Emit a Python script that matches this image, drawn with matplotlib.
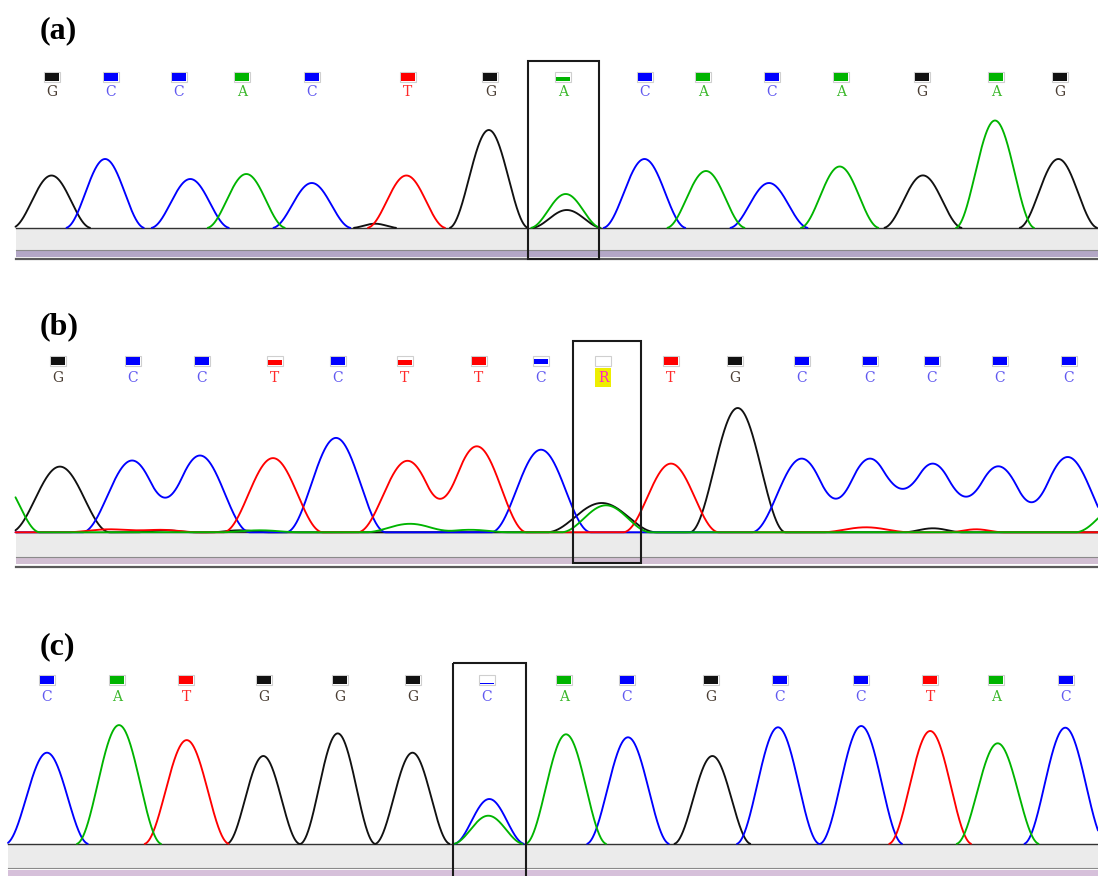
import numpy as np
import matplotlib
matplotlib.use("Agg")
import matplotlib.pyplot as plt
from matplotlib.patches import Rectangle

# ---------------- data ----------------
# Panel (a)
calls_a = list("GCCACTGACACAGAG")
call_x_a = [51.6, 110.8, 178.9, 242, 312, 407.6, 490.4, 563, 645, 703, 772, 841, 922, 996, 1060]
call_q_a = [1, 1, 1, 1, 1, 1, 1, 0.4, 1, 1, 1, 1, 1, 1, 1]
peak_base_a = ["G", "C", "C", "A", "C", "G", "T", "G", "A", "G", "C", "A", "C", "A", "G", "A", "G"]
peak_x_a = [51.5, 105.1, 190.3, 246.3, 311.8, 375, 406.4, 488.8, 565.7, 566.8, 644.5, 706, 769, 839.7, 922.9, 995, 1058.4]
peak_h_a = [52.5, 69, 49, 54, 45, 4.3, 52.5, 98, 34, 18, 69, 57, 45, 61.5, 52.6, 107.5, 69]
peak_w_a = [40, 40, 40, 40, 40, 24, 40, 40, 36, 36, 42, 40, 40, 40, 40, 40, 40]

# Panel (b)
calls_b = list("GCCTCTTCRTGCCCCC")
call_x_b = [58, 133, 202, 275, 338, 405, 479, 541, 603, 671, 735, 802, 870, 932, 1000, 1069]
call_q_b = [1, 1, 1, 0.6, 1, 0.6, 1, 0.65, 0, 1, 1, 1, 1, 1, 1, 1]
peak_base_b = ["A", "G", "C", "C", "T", "C", "T", "T", "C", "G", "A", "T", "G", "C", "C", "C", "C", "C", "A",
               "A", "T", "T", "G", "T", "G", "T", "G", "A", "A"]
peak_x_b = [0, 59.9, 132.1, 200, 273, 336, 407.5, 476.8, 541, 601.7, 606, 671, 737.7, 801.7, 870, 932.7, 998.3, 1067.7, 1125,
            410, 866, 976, 933, 110, 165, 160, 240, 260, 470]
peak_h_b = [52, 65.7, 71.8, 76.8, 74.2, 94.4, 71.5, 86, 82.6, 29.3, 27, 68.7, 124.3, 73.7, 73.7, 68.7, 66, 75.3, 32,
            8.5, 5, 3, 4, 3, 2, 2.5, 2, 2, 2.5]
peak_w_b = [40, 50, 50, 50, 50, 50, 50, 50, 50, 55, 45, 48, 48, 50, 50, 50, 50, 50, 50,
            45, 45, 28, 30, 45, 30, 40, 30, 40, 40]

# Panel (c)
calls_c = list("CATGGGCACGCCTAC")
call_x_c = [47, 117, 186, 264, 340, 413, 487, 564, 627, 711, 780, 861, 930, 996, 1066]
call_q_c = [1, 1, 1, 1, 1, 1, 0.2, 1, 1, 1, 1, 1, 1, 1, 1]
peak_base_c = ["C", "A", "T", "G", "G", "G", "C", "A", "A", "C", "G", "C", "C", "T", "A", "C"]
peak_x_c = [47, 119, 186.7, 263.3, 337.7, 412.5, 489.3, 488.3, 566, 628, 712.4, 778, 861.2, 930.2, 997.7, 1065.3]
peak_h_c = [91.3, 118.9, 103.9, 88, 110.6, 91.3, 45, 28.3, 109.7, 106.7, 88, 116.7, 118, 113, 100.7, 116.3]
peak_w_c = [42, 43, 43, 37, 38, 38, 36, 36, 41, 42, 39, 42, 42, 42, 42, 42]

# ---------------- style ----------------
trace_col = {"G": "#111111", "C": "#0000ff", "A": "#00b400", "T": "#ff0000"}
letter_col = {"G": "#4a3d33", "C": "#6058f0", "A": "#3cb82c", "T": "#ff2a2a", "R": "#ff20c8"}

panels = [
    dict(label="(a)", label_y=31, x0=15.5, base=228, band=249.7, purple=(250.5, 256.5), dark=259,
         box=(528.3, 598.5, 61, 258.5), sq_y=76.6, let_y=91.5,
         calls=calls_a, call_x=call_x_a, call_q=call_q_a,
         pb=peak_base_a, px=peak_x_a, ph=peak_h_a, pw=peak_w_a, mask=True, purple_col="#b3a7c6"),
    dict(label="(b)", label_y=327, x0=15.5, base=532.3, band=556.7, purple=(558, 563.5), dark=566.7,
         box=(572.7, 641, 341, 563), sq_y=360.5, let_y=377.5,
         calls=calls_b, call_x=call_x_b, call_q=call_q_b,
         pb=peak_base_b, px=peak_x_b, ph=peak_h_b, pw=peak_w_b, mask=False, purple_col="#d2bfd3"),
    dict(label="(c)", label_y=647, x0=8, base=844, band=868, purple=(869.5, 877), dark=None,
         box=(452.7, 526, 663.3, 880), sq_y=680.3, let_y=696.2,
         calls=calls_c, call_x=call_x_c, call_q=call_q_c,
         pb=peak_base_c, px=peak_x_c, ph=peak_h_c, pw=peak_w_c, mask=True, purple_col="#d6c0da"),
]

fig = plt.figure(figsize=(10.98, 8.76), dpi=100)
ax = fig.add_axes([0, 0, 1, 1])
ax.set_xlim(0, 1098)
ax.set_ylim(876, 0)
ax.axis("off")

XR = 1098


def peak_signal(xg, c, h, w):
    d = np.abs(xg - c)
    s = h * np.cos(np.pi * d / (2 * w)) ** 2
    s[d >= w] = 0.0
    return s


for P in panels:
    x0, base = P["x0"], P["base"]
    # gray band under the traces
    ax.add_patch(Rectangle((x0, base), XR - x0, P["band"] - base, facecolor="#ebebeb",
                           edgecolor="none", zorder=1))
    ax.plot([x0, XR], [P["band"], P["band"]], color="#8a8a8a", lw=0.8, zorder=1.5)
    ax.add_patch(Rectangle((x0, P["purple"][0]), XR - x0, P["purple"][1] - P["purple"][0],
                           facecolor=P["purple_col"], edgecolor="none", zorder=1))
    if P["dark"] is not None:
        ax.plot([x0, XR], [P["dark"], P["dark"]], color="#5a5a5a", lw=1.6, zorder=1.5)
    ax.plot([x0, XR], [base, base], color="#333333", lw=1.0, zorder=2)

    # traces
    xg = np.arange(x0, XR + 0.25, 0.25)
    order = ["G", "C", "T", "A"]
    for b in order:
        sig = np.zeros_like(xg)
        for pb, px, ph, pw in zip(P["pb"], P["px"], P["ph"], P["pw"]):
            if pb == b:
                sig += peak_signal(xg, px, ph, pw)
        if P["mask"]:
            sig = np.where(sig < 0.15, np.nan, sig)
        ax.plot(xg, base - sig, color=trace_col[b], lw=1.35, zorder=3,
                solid_joinstyle="round", solid_capstyle="round")

    # base-call squares and letters
    sq_w, sq_h = 14, 8
    for ch, cx, q in zip(P["calls"], P["call_x"], P["call_q"]):
        y_top = P["sq_y"] - sq_h / 2
        ax.add_patch(Rectangle((cx - sq_w / 2 - 1, y_top - 1), sq_w + 2, sq_h + 2,
                               facecolor="white", edgecolor="#cfcfcf", lw=0.8, zorder=4))
        if q > 0 and ch in trace_col:
            fh = sq_h * q
            ax.add_patch(Rectangle((cx - sq_w / 2, y_top + sq_h - fh), sq_w, fh,
                                   facecolor=trace_col[ch], edgecolor="none", zorder=4.5))
        if ch == "R":
            ax.add_patch(Rectangle((cx - 8.4, P["let_y"] - 9.2), 16.8, 18.4,
                                   facecolor="#eeee00", edgecolor="none", zorder=4))
        ax.text(cx, P["let_y"] + 4.8, ch, color=letter_col[ch], fontsize=10,
                family="DejaVu Serif", ha="center", va="baseline", zorder=5)

    # highlight box
    bx0, bx1, by0, by1 = P["box"]
    ax.add_patch(Rectangle((bx0, by0), bx1 - bx0, by1 - by0, facecolor="none",
                           edgecolor="#1a1a1a", lw=1.5, zorder=6))

    # panel label
    ax.text(40, P["label_y"], P["label"], fontsize=23, fontweight="bold",
            family="Liberation Serif", ha="left", va="center", zorder=6)

fig.savefig("out.png", dpi=100, facecolor="white")
